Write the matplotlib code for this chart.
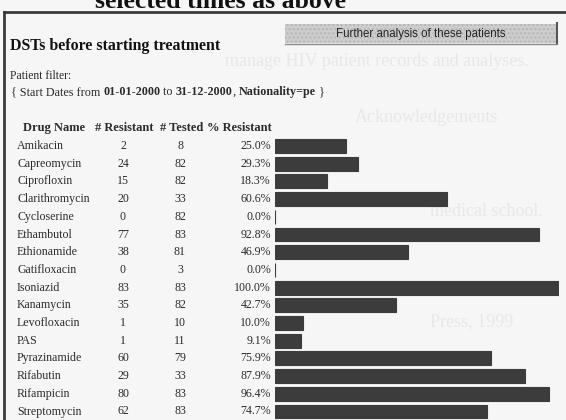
"""Recreate the scanned 'DSTs before starting treatment' table with inline bars."""

import matplotlib
matplotlib.use("Agg")
import matplotlib.pyplot as plt
from matplotlib.patches import Rectangle
from matplotlib.transforms import blended_transform_factory

drugs = ["Amikacin", "Capreomycin", "Ciprofloxin", "Clarithromycin", "Cycloserine",
         "Ethambutol", "Ethionamide", "Gatifloxacin", "Isoniazid", "Kanamycin",
         "Levofloxacin", "PAS", "Pyrazinamide", "Rifabutin", "Rifampicin", "Streptomycin"]
resistant = [2, 24, 15, 20, 0, 77, 38, 0, 83, 35, 1, 1, 60, 29, 80, 62]
tested = [8, 82, 82, 33, 82, 83, 81, 3, 83, 82, 10, 11, 79, 33, 83, 83]
pct_resistant = [25.0, 29.3, 18.3, 60.6, 0.0, 92.8, 46.9, 0.0, 100.0, 42.7,
                 10.0, 9.1, 75.9, 87.9, 96.4, 74.7]
headers = ["Drug Name", "# Resistant", "# Tested", "% Resistant"]

# faint show-through from the other side of the scanned page
ghost_lines = [
    (225, 62, "manage HIV patient records and analyses."),
    (355, 117, "Acknowledgements"),
    (430, 212, "medical school."),
    (430, 322, "Press, 1999"),
]

W, H = 566, 420
BG = "#f6f6f6"
INK = "#2b2b2b"
SERIF = "Liberation Serif"
FS = 8.6
HFS = 9.0

fig = plt.figure(figsize=(W / 100, H / 100), dpi=100, facecolor=BG)
bg = fig.add_axes([0, 0, 1, 1])
bg.set_xlim(0, W)
bg.set_ylim(H, 0)
bg.axis("off")

for x, y, s in ghost_lines:
    bg.text(x, y, s, fontsize=13, family=SERIF, color="#e8e8e8", va="center", zorder=0)

# heading of the page, cut off at the top
bg.text(95, 8, "selected times as above", fontsize=18.5, family=SERIF,
        weight="bold", color="#111111", va="baseline")

# box frame
bg.plot([4, W], [12, 12], color="#3a3a3a", lw=2)
bg.plot([4, 4], [12, H], color="#3a3a3a", lw=2)

# button
bg.add_patch(Rectangle((285, 24), 272, 19, facecolor="#cdcdcd", edgecolor="#b5b5b5",
                       hatch="....", lw=0))
bg.plot([557, 557], [23, 44], color="#555555", lw=1.5)
bg.plot([285, 557], [43.5, 43.5], color="#8a8a8a", lw=1)
bg.text(421, 33.5, "Further analysis of these patients", fontsize=8.3,
        family="Liberation Sans", ha="center", va="center", color="#222222")

bg.text(10, 46, "DSTs before starting treatment", fontsize=11.4, family=SERIF,
        weight="bold", va="center", color="#111111")
bg.text(10, 76, "Patient filter:", fontsize=8.4, family=SERIF, va="center", color=INK)

# filter line with bold values, chained piece by piece
pieces = [("{ Start Dates from ", "normal"), ("01-01-2000", "bold"), (" to ", "normal"),
          ("31-12-2000", "bold"), (", ", "normal"), ("Nationality=pe", "bold"),
          (" }", "normal")]
prev = bg.text(11, 92, pieces[0][0], fontsize=8.7, family=SERIF, va="center", color=INK)
for s, w in pieces[1:]:
    prev = bg.annotate(s, xy=(1, 0), xycoords=prev, va="bottom", ha="left",
                       fontsize=8.7, family=SERIF, weight=w, color=INK)

# bars
row0, step = 146, 17.7
n = len(drugs)
top = row0 - step / 2
bottom = row0 + (n - 0.5) * step
bar_left, bar_w = 275, 284
ax = fig.add_axes([bar_left / W, 1 - bottom / H, bar_w / W, (bottom - top) / H])
ax.set_xlim(0, 100)
ax.set_ylim(n - 0.5, -0.5)
ax.axis("off")
ax.barh(range(n), pct_resistant, height=0.79, color="#3c3c3c", edgecolor="#3c3c3c",
        lw=0.8)

# table text, x in pixel coords, y in row units
tr = blended_transform_factory(bg.transData, ax.transData)
hy = row0 - step
bg.text(23, hy, headers[0], fontsize=HFS, family=SERIF, weight="bold",
        va="center", color=INK)
bg.text(95, hy, headers[1], fontsize=HFS, family=SERIF, weight="bold",
        va="center", color=INK)
bg.text(160, hy, headers[2], fontsize=HFS, family=SERIF, weight="bold",
        va="center", color=INK)
bg.text(272, hy, headers[3], fontsize=HFS, family=SERIF, weight="bold",
        va="center", ha="right", color=INK)

for i, (d, r, t, p) in enumerate(zip(drugs, resistant, tested, pct_resistant)):
    ax.text(17, i, d, transform=tr, fontsize=FS, family=SERIF, va="center", color=INK,
            clip_on=False)
    ax.text(123, i, str(r), transform=tr, fontsize=FS, family=SERIF, va="center",
            ha="center", color=INK, clip_on=False)
    ax.text(180, i, str(t), transform=tr, fontsize=FS, family=SERIF, va="center",
            ha="center", color=INK, clip_on=False)
    ax.text(271, i, f"{p:.1f}%", transform=tr, fontsize=FS, family=SERIF, va="center",
            ha="right", color=INK, clip_on=False)

fig.savefig("out.png", dpi=100, facecolor=BG)
